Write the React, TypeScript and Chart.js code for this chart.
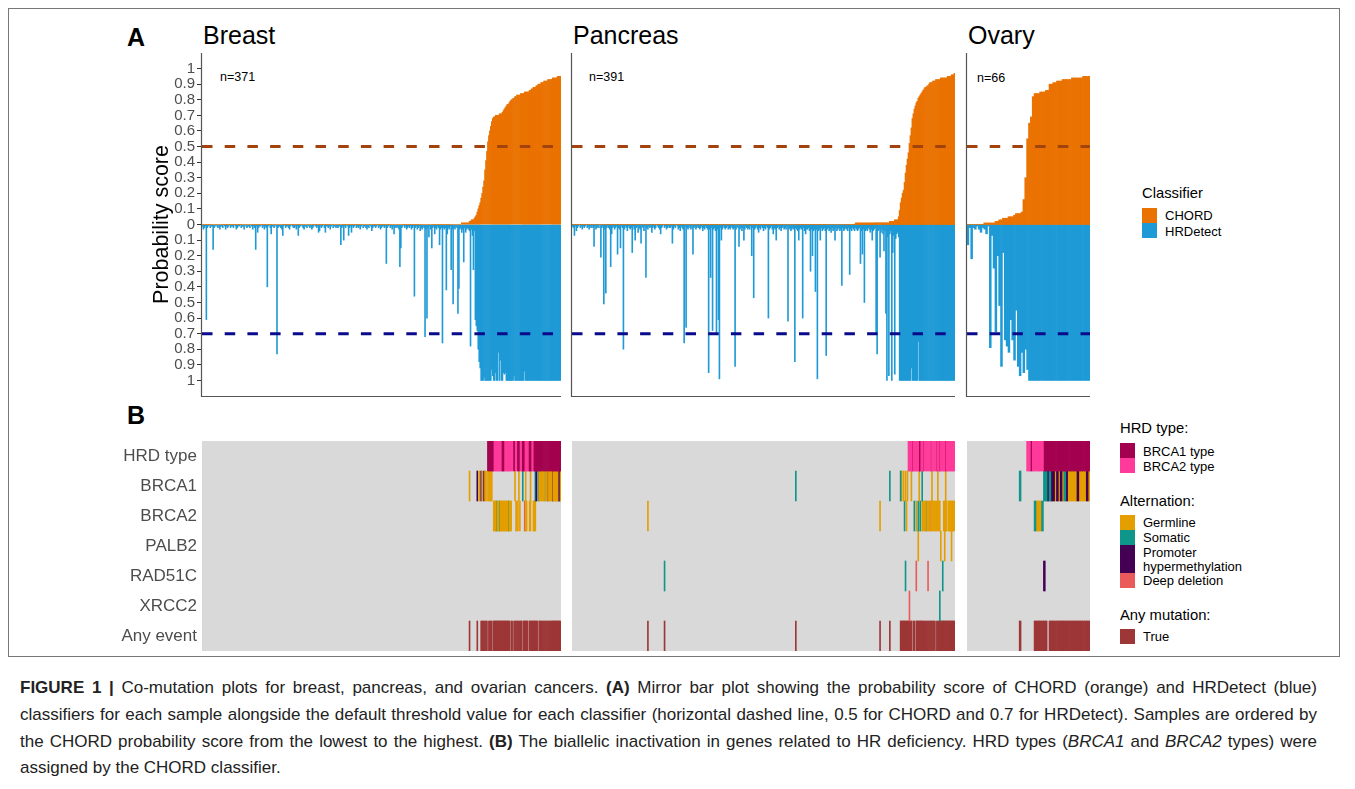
import React, { useEffect, useRef } from 'react';
import { Chart, registerables } from 'chart.js';

Chart.register(...registerables);

const FONT = '"Liberation Sans", Arial, Helvetica, sans-serif';

// ================= DATA =================
const facetNames = ['Breast', 'Pancreas', 'Ovary'];
const sampleCountLabels = ['n=371', 'n=391', 'n=66'];

const probabilityTicks = [-1, -0.9, -0.8, -0.7, -0.6, -0.5, -0.4, -0.3, -0.2, -0.1, 0, 0.1, 0.2, 0.3, 0.4, 0.5, 0.6, 0.7, 0.8, 0.9, 1];
const probabilityTickLabels = ['1', '0.9', '0.8', '0.7', '0.6', '0.5', '0.4', '0.3', '0.2', '0.1', '0', '0.1', '0.2', '0.3', '0.4', '0.5', '0.6', '0.7', '0.8', '0.9', '1'];
const chordThreshold = 0.5;
const hrdetectThreshold = 0.7;

// probability scores in percent, samples ordered by CHORD score
const breastChord = [
  0,0,0,0,0,0,0,0,0,0,0,0,0,0,0,0,0,0,0,0,
  0,0,0,0,0,0,0,0,0,0,0,0,0,0,0,0,0,0,0,0,
  0,0,0,0,0,0,0,0,0,0,0,0,0,0,0,0,0,0,0,0,
  0,0,0,0,0,0,0,0,0,0,0,0,0,0,0,0,0,0,0,0,
  0,0,0,0,0,0,0,0,0,0,0,0,0,0,0,0,0,0,0,0,
  0,0,0,0,0,0,0,0,0,0,0,0,0,0,0,0,0,0,0,0,
  0,0,0,0,0,0,0,0,0,0,0,0,0,0,0,0,0,0,0,0,
  0,0,0,0,0,0,0,0,0,0,0,0,0,0,0,0,0,0,0,0,
  0,0,0,0,0,0,0,0,0,0,0,0,0,0,0,0,0,0,0,0,
  0,0,0,0,0,0,0,0,0,0,0,0,0,0,0,0,0,0,0,0,
  0,0,0,0,0,0,0,0,0,0,0,0,0,0,0,0,0,0,0,0,
  0,0,0,0,0,0,0,0,0,0,0,0,0,0,0,0,0,0,0,0,
  0,0,0,0,0,0,0,0,0,0,0,0,0,0,0,0,0,0,0,0,
  0,0,0,0,0,0,0,0,1,1,1,1,1,1,1,1,2,2,3,3,
  3,4,5,6,8,10,12,14,17,20,24,28,35,41,47,53,57,60,63,66,
  68,69,69,70,70,70,70,71,71,71,72,73,74,75,76,77,77,78,79,80,
  80,81,81,82,82,83,83,83,83,84,84,84,84,85,85,85,85,85,86,86,
  87,87,88,88,88,89,89,90,90,90,91,91,91,92,92,92,92,93,93,93,
  93,93,94,94,94,94,94,95,95,95,95,
];
const breastHrdetect = [
  1,3,2,1,61,2,1,0,2,1,1,16,2,1,0,1,2,1,3,1,
  1,2,0,1,3,1,2,1,0,2,1,1,2,0,1,3,2,1,1,0,
  2,1,1,3,0,1,2,1,1,2,0,1,3,1,2,16,1,5,2,1,
  1,0,2,1,3,1,2,40,1,0,2,6,1,1,2,0,1,83,2,1,
  1,2,3,7,1,0,2,1,1,2,3,1,0,1,2,2,1,3,1,7,
  2,1,0,1,2,3,1,1,2,0,1,2,1,3,2,1,0,1,2,1,
  5,4,1,2,1,0,2,5,1,1,2,1,3,1,0,2,1,1,2,1,
  2,1,1,13,2,1,10,1,2,0,1,7,2,1,5,1,2,1,0,2,
  1,2,1,3,1,0,2,1,1,2,3,1,2,0,1,4,2,1,1,2,
  1,0,2,1,3,2,1,1,2,1,25,2,1,0,2,1,3,1,6,2,
  1,2,1,3,27,15,2,1,0,2,1,3,2,1,2,1,3,2,1,46,
  2,1,3,2,1,4,2,3,1,2,72,3,60,2,8,1,3,15,2,1,
  6,2,3,1,2,13,3,2,76,2,3,2,42,6,2,3,1,29,3,51,
  2,3,1,2,57,41,3,2,5,3,24,2,5,3,2,3,4,78,3,7,
  29,4,61,65,68,80,88,92,100,100,100,98,100,100,100,100,100,100,100,93,
  97,100,100,95,100,100,82,100,87,100,100,95,96,95,100,100,100,100,100,100,
  100,100,97,100,100,100,100,100,100,100,100,100,100,94,100,100,100,100,100,100,
  100,100,100,100,100,100,100,100,100,100,100,100,100,100,100,100,100,100,100,100,
  100,100,100,100,100,100,100,100,100,100,100,
];

const pancreasChord = [
  0,0,0,0,0,0,0,0,0,0,0,0,0,0,0,0,0,0,0,0,
  0,0,0,0,0,0,0,0,0,0,0,0,0,0,0,0,0,0,0,0,
  0,0,0,0,0,0,0,0,0,0,0,0,0,0,0,0,0,0,0,0,
  0,0,0,0,0,0,0,0,0,0,0,0,0,0,0,0,0,0,0,0,
  0,0,0,0,0,0,0,0,0,0,0,0,0,0,0,0,0,0,0,0,
  0,0,0,0,0,0,0,0,0,0,0,0,0,0,0,0,0,0,0,0,
  0,0,0,0,0,0,0,0,0,0,0,0,0,0,0,0,0,0,0,0,
  0,0,0,0,0,0,0,0,0,0,0,0,0,0,0,0,0,0,0,0,
  0,0,0,0,0,0,0,0,0,0,0,0,0,0,0,0,0,0,0,0,
  0,0,0,0,0,0,0,0,0,0,0,0,0,0,0,0,0,0,0,0,
  0,0,0,0,0,0,0,0,0,0,0,0,0,0,0,0,0,0,0,0,
  0,0,0,0,0,0,0,0,0,0,0,0,0,0,0,0,0,0,0,0,
  0,0,0,0,0,0,0,0,0,0,0,0,0,0,0,0,0,0,0,0,
  0,0,0,0,0,0,0,0,0,0,0,0,0,0,0,0,0,0,0,0,
  0,0,0,0,0,0,0,0,0,1,1,1,1,1,1,1,1,1,1,1,
  1,1,1,1,1,1,1,1,1,1,1,1,1,1,1,1,1,1,1,1,
  1,1,1,1,2,2,2,2,2,3,3,3,3,5,9,14,17,20,22,27,
  33,38,42,46,52,57,62,68,71,74,76,78,79,81,82,83,84,85,86,87,
  88,88,89,89,90,91,91,91,92,92,92,93,93,93,93,93,94,94,94,94,
  94,94,94,95,95,95,95,96,96,96,97,
];
const pancreasHrdetect = [
  1,2,7,1,4,2,1,0,2,1,3,1,2,1,0,2,1,3,1,2,
  1,2,14,1,3,2,1,2,0,21,2,1,51,3,44,2,1,2,3,27,
  6,2,1,3,2,1,19,2,3,15,1,2,80,3,1,2,4,1,2,3,
  2,18,1,3,10,2,1,5,2,3,12,1,2,4,1,34,2,3,1,2,
  1,5,2,1,3,2,0,1,2,3,6,2,1,0,2,1,3,2,1,2,
  2,1,12,3,1,2,0,1,3,2,4,1,2,3,76,1,66,2,3,1,
  2,3,1,19,2,1,3,2,1,2,3,2,1,4,2,3,1,2,3,95,
  3,34,2,68,3,2,4,69,3,61,99,2,10,3,1,2,3,2,1,3,
  2,3,1,2,3,2,91,3,1,2,14,3,2,4,2,10,3,1,2,3,
  2,3,1,20,2,47,3,2,1,3,5,2,3,1,2,4,2,3,1,2,
  60,3,2,1,3,6,2,3,10,2,1,3,2,4,2,1,3,2,3,1,
  62,3,2,4,3,2,3,88,2,3,4,10,3,2,3,60,2,4,6,3,
  3,2,4,30,3,20,4,3,43,3,99,4,3,10,2,4,3,2,4,84,
  3,2,4,3,5,2,4,3,10,2,4,3,2,4,3,39,2,4,3,2,
  3,4,2,32,3,4,2,3,4,2,3,4,3,2,25,4,19,3,50,4,
  3,4,2,3,5,3,10,4,3,2,69,83,4,3,21,5,3,6,17,4,
  57,100,8,97,6,4,100,18,7,96,9,6,5,8,100,100,100,100,100,100,
  100,100,100,100,100,100,92,100,100,100,100,100,100,75,100,100,100,100,100,100,
  100,100,100,100,100,100,100,100,100,100,100,100,100,100,100,100,100,100,100,100,
  100,100,100,100,100,100,100,100,100,100,100,
];

const ovaryChord = [
  0,0,0,0,0,0,0,0,0,1,
  1,1,1,1,1,2,2,3,3,4,
  4,4,5,5,5,6,7,7,7,8,
  16,30,55,65,69,82,84,84,84,85,
  85,85,86,86,90,90,91,91,92,92,
  92,93,93,93,93,93,94,94,94,94,
  94,94,95,95,95,95,
];
const ovaryHrdetect = [
  13,2,22,2,3,1,3,5,2,3,
  6,1,79,7,28,69,20,52,91,18,
  74,78,82,61,74,87,55,91,97,82,
  95,80,93,100,100,100,100,100,100,100,
  100,100,100,100,100,100,100,100,100,100,
  100,100,100,100,100,100,100,100,100,100,
  100,100,100,100,100,100,
];

// Panel B: runs of samples [first, last, code]
const heatRows = ['HRD type', 'BRCA1', 'BRCA2', 'PALB2', 'RAD51C', 'XRCC2', 'Any event'];

const breastHrdType = [[295,300,'B1'],[301,309,'B2'],[310,311,'B1'],[312,321,'B2'],[322,322,'B1'],[323,325,'B2'],[326,327,'B1'],[328,330,'B2'],[331,332,'B1'],[333,337,'B2'],[338,339,'B1'],[340,342,'B2'],[343,370,'B1']];
const breastBRCA1 = [[276,276,'G'],[284,284,'P'],[286,286,'G'],[288,288,'P'],[289,289,'G'],[291,291,'P'],[292,293,'G'],[295,299,'G'],[323,323,'G'],[327,327,'G'],[331,331,'S'],[334,334,'G'],[339,339,'G'],[344,344,'S'],[345,345,'P'],[347,347,'S'],[348,353,'G'],[354,354,'S'],[355,356,'G'],[357,357,'P'],[358,361,'G'],[362,362,'P'],[363,367,'G'],[368,369,'P'],[370,370,'G']];
const breastBRCA2 = [[301,303,'G'],[304,304,'S'],[305,306,'G'],[307,307,'S'],[308,315,'G'],[316,316,'S'],[317,319,'G'],[324,326,'G'],[328,328,'G'],[333,333,'D'],[334,335,'G'],[338,339,'G'],[342,344,'G']];
const breastPALB2 = [];
const breastRAD51C = [];
const breastXRCC2 = [];
const breastAnyEvent = [[276,276,'T'],[284,284,'T'],[288,294,'T'],[296,299,'T'],[301,317,'T'],[319,320,'T'],[322,330,'T'],[332,336,'T'],[338,346,'T'],[348,370,'T']];

const pancreasHrdType = [[343,346,'B2'],[347,347,'B1'],[348,353,'B2'],[354,355,'B1'],[356,357,'B2'],[358,358,'B1'],[359,365,'B2'],[366,366,'B1'],[367,371,'B2'],[372,372,'B1'],[373,374,'B2'],[375,375,'B1'],[376,380,'B2'],[381,381,'B1'],[382,390,'B2']];
const pancreasBRCA1 = [[228,228,'S'],[324,324,'S'],[335,335,'S'],[336,336,'G'],[338,338,'G'],[340,340,'G'],[342,342,'G'],[346,346,'G'],[354,354,'G'],[357,357,'S'],[367,367,'G'],[373,373,'G'],[381,381,'G']];
const pancreasBRCA2 = [[77,77,'G'],[314,314,'G'],[339,339,'S'],[341,341,'G'],[349,349,'S'],[351,351,'G'],[353,353,'S'],[355,355,'S'],[357,360,'G'],[361,361,'S'],[362,364,'G'],[365,365,'D'],[366,375,'G'],[379,382,'G'],[384,390,'G']];
const pancreasPALB2 = [[353,353,'G'],[376,376,'G'],[380,380,'G'],[387,387,'G']];
const pancreasRAD51C = [[94,94,'S'],[340,340,'S'],[351,351,'D'],[363,363,'D'],[378,378,'S']];
const pancreasXRCC2 = [[344,344,'D'],[375,375,'S']];
const pancreasAnyEvent = [[77,77,'T'],[94,94,'T'],[228,228,'T'],[314,314,'T'],[324,324,'T'],[335,346,'T'],[348,349,'T'],[351,370,'T'],[372,390,'T']];

const ovaryHrdType = [[32,33,'B2'],[34,34,'B1'],[35,40,'B2'],[41,65,'B1']];
const ovaryBRCA1 = [[28,28,'S'],[41,42,'S'],[43,43,'P'],[44,44,'S'],[45,46,'P'],[47,47,'G'],[48,48,'P'],[49,49,'G'],[50,50,'P'],[51,51,'G'],[52,52,'S'],[53,53,'P'],[54,58,'G'],[59,59,'P'],[60,63,'G'],[64,64,'P'],[65,65,'G']];
const ovaryBRCA2 = [[36,36,'S'],[37,39,'G'],[40,40,'S']];
const ovaryPALB2 = [];
const ovaryRAD51C = [[41,41,'P']];
const ovaryXRCC2 = [];
const ovaryAnyEvent = [[28,28,'T'],[36,42,'T'],[44,65,'T']];

// ================= STYLE =================
const CHORD_COLOR = '#EA7200';
const HRD_COLOR = '#1E9AD6';
const CHORD_LINE = '#A2420D';
const HRD_LINE = '#0A0A8C';
const HEAT_BG = '#D9D9D9';
const codeColors: Record<string, string> = {
  B1: '#A3004F',
  B2: '#FF3A9A',
  G: '#E49E00',
  S: '#0E968B',
  P: '#440154',
  D: '#EA5A5A',
  T: '#9D3636',
};

const axisLinesPlugin = {
  id: 'axisLines',
  afterDraw(chart: any) {
    const { ctx, chartArea: a } = chart;
    ctx.save();
    ctx.strokeStyle = '#555555';
    ctx.lineWidth = 1.2;
    ctx.beginPath();
    ctx.moveTo(a.left - 0.5, a.top);
    ctx.lineTo(a.left - 0.5, a.bottom + 0.5);
    ctx.lineTo(a.right, a.bottom + 0.5);
    ctx.stroke();
    ctx.restore();
  },
};

const thresholdPlugin = {
  id: 'thresholds',
  afterDatasetsDraw(chart: any) {
    const { ctx, chartArea: a } = chart;
    const y = chart.scales.y;
    const lines: [number, string][] = [[chordThreshold, CHORD_LINE], [-hrdetectThreshold, HRD_LINE]];
    ctx.save();
    ctx.lineWidth = 3;
    ctx.setLineDash([10.5, 12.2]);
    ctx.lineCap = 'butt';
    for (const [v, c] of lines) {
      const py = y.getPixelForValue(v);
      ctx.strokeStyle = c;
      ctx.beginPath();
      ctx.moveTo(a.left, py);
      ctx.lineTo(a.right, py);
      ctx.stroke();
    }
    ctx.restore();
  },
};

const heatBgPlugin = {
  id: 'heatBg',
  beforeDatasetsDraw(chart: any) {
    const { ctx, chartArea: a } = chart;
    ctx.save();
    ctx.fillStyle = HEAT_BG;
    ctx.fillRect(a.left, a.top, a.right - a.left, a.bottom - a.top);
    ctx.restore();
  },
};

function BarFacet(props: any) {
  const { chord, hrd, left, width, padLeft, showAxis } = props;
  const ref = useRef<HTMLCanvasElement>(null);
  useEffect(() => {
    const labels = chord.map((_: number, i: number) => String(i + 1));
    const chart = new Chart(ref.current as HTMLCanvasElement, {
      type: 'bar',
      data: {
        labels,
        datasets: [
          { label: 'CHORD', data: chord.map((v: number) => v / 100), backgroundColor: CHORD_COLOR, borderWidth: 0, barPercentage: 1, categoryPercentage: 1, grouped: false } as any,
          { label: 'HRDetect', data: hrd.map((v: number) => -v / 100), backgroundColor: HRD_COLOR, borderWidth: 0, barPercentage: 1, categoryPercentage: 1, grouped: false } as any,
        ],
      },
      options: {
        animation: false,
        responsive: false,
        devicePixelRatio: 1,
        layout: { padding: { left: padLeft, right: 5, top: 13, bottom: 14 } },
        plugins: { legend: { display: false }, tooltip: { enabled: false } },
        scales: {
          x: { display: false, offset: true },
          y: {
            min: -1.1,
            max: 1.1,
            display: showAxis,
            afterFit: (s: any) => { s.width = showAxis ? 62 : 0; },
            afterBuildTicks: (s: any) => { s.ticks = probabilityTicks.map((v) => ({ value: v })); },
            ticks: {
              autoSkip: false,
              padding: 2,
              color: '#4D4D4D',
              font: { family: FONT, size: 15 },
              callback: (_v: any, i: number) => probabilityTickLabels[i],
            },
            grid: { drawOnChartArea: false, drawTicks: true, tickLength: 5, color: '#333333', lineWidth: 1 },
            border: { display: false },
            title: { display: true, text: 'Probability score', color: '#000', font: { family: FONT, size: 21.5 }, padding: { top: 9, bottom: 0 } },
          },
        },
      } as any,
      plugins: [axisLinesPlugin, thresholdPlugin],
    });
    return () => chart.destroy();
  }, []);
  return <canvas ref={ref} width={width} height={370} style={{ position: 'absolute', left, top: 40, width, height: 370 }} />;
}

function HeatFacet(props: any) {
  const { rows, n, left, width, padLeft, showAxis } = props;
  const ref = useRef<HTMLCanvasElement>(null);
  useEffect(() => {
    const labels = Array.from({ length: n }, (_, i) => String(i + 1));
    const datasets: any[] = [];
    rows.forEach((runs: any[], r: number) => {
      const codes = Array.from(new Set(runs.map((run) => run[2])));
      codes.forEach((code) => {
        const data: any[] = new Array(n).fill(null);
        runs.forEach(([a, b, c]: any) => {
          if (c === code) for (let i = a; i <= b; i++) data[i] = [r, r + 1];
        });
        datasets.push({ data, backgroundColor: codeColors[code as string], borderWidth: 0, barPercentage: 1, categoryPercentage: 1, grouped: false });
      });
    });
    const chart = new Chart(ref.current as HTMLCanvasElement, {
      type: 'bar',
      data: { labels, datasets },
      options: {
        animation: false,
        responsive: false,
        devicePixelRatio: 1,
        layout: { padding: { left: padLeft, right: 5, top: 16, bottom: 16 } },
        plugins: { legend: { display: false }, tooltip: { enabled: false } },
        scales: {
          x: { display: false, offset: true },
          y: {
            min: 0,
            max: heatRows.length,
            reverse: true,
            display: showAxis,
            afterFit: (s: any) => { s.width = showAxis ? 102 : 0; },
            afterBuildTicks: (s: any) => { s.ticks = heatRows.map((_, i) => ({ value: i + 0.5 })); },
            ticks: {
              autoSkip: false,
              padding: 5,
              color: '#4D4D4D',
              font: { family: FONT, size: 17 },
              callback: (_v: any, i: number) => heatRows[i],
            },
            grid: { display: false, drawTicks: false, tickLength: 0 },
            border: { display: false },
          },
        },
      } as any,
      plugins: [heatBgPlugin],
    });
    return () => chart.destroy();
  }, []);
  return <canvas ref={ref} width={width} height={242} style={{ position: 'absolute', left, top: 425, width, height: 242 }} />;
}

function T(props: any) {
  const { x, y, size, bold, color, children } = props;
  // y = visual centre of capital letters
  return (
    <div style={{ position: 'absolute', left: x, top: y - 0.4885 * size, fontSize: size, lineHeight: `${size}px`, fontWeight: bold ? 'bold' : 'normal', color: color || '#000', whiteSpace: 'nowrap' }}>
      {children}
    </div>
  );
}

function Box(props: any) {
  const { x, y, h, color } = props;
  return <div style={{ position: 'absolute', left: x, top: y, width: 15, height: h || 15, background: color }} />;
}

const capLine: any = { width: 1297, textAlign: 'justify', textAlignLast: 'justify', whiteSpace: 'nowrap', height: 26.7 };

export default function App() {
  return (
    <div style={{ position: 'absolute', left: 0, top: 0, width: 1355, height: 789, background: '#fff', overflow: 'hidden', fontFamily: FONT, color: '#000' }}>
      {/* frame */}
      <div style={{ position: 'absolute', left: 8, top: 8, width: 1332, height: 649, border: '1px solid #777', boxSizing: 'border-box' }} />

      <T x={127} y={37} size={25} bold>A</T>
      <T x={127} y={415} size={25} bold>B</T>
      <T x={203} y={35} size={25}>{facetNames[0]}</T>
      <T x={573} y={35} size={25}>{facetNames[1]}</T>
      <T x={968} y={35} size={25}>{facetNames[2]}</T>
      <T x={220} y={77.5} size={12.5}>{sampleCountLabels[0]}</T>
      <T x={589} y={77.5} size={12.5}>{sampleCountLabels[1]}</T>
      <T x={977} y={78} size={12.5}>{sampleCountLabels[2]}</T>

      <BarFacet chord={breastChord} hrd={breastHrdetect} left={140} width={426} padLeft={0} showAxis={true} />
      <BarFacet chord={pancreasChord} hrd={pancreasHrdetect} left={560} width={400} padLeft={12} showAxis={false} />
      <BarFacet chord={ovaryChord} hrd={ovaryHrdetect} left={955} width={140} padLeft={12} showAxis={false} />

      <HeatFacet rows={[breastHrdType, breastBRCA1, breastBRCA2, breastPALB2, breastRAD51C, breastXRCC2, breastAnyEvent]} n={breastChord.length} left={100} width={466} padLeft={0} showAxis={true} />
      <HeatFacet rows={[pancreasHrdType, pancreasBRCA1, pancreasBRCA2, pancreasPALB2, pancreasRAD51C, pancreasXRCC2, pancreasAnyEvent]} n={pancreasChord.length} left={560} width={400} padLeft={12} showAxis={false} />
      <HeatFacet rows={[ovaryHrdType, ovaryBRCA1, ovaryBRCA2, ovaryPALB2, ovaryRAD51C, ovaryXRCC2, ovaryAnyEvent]} n={ovaryChord.length} left={955} width={140} padLeft={12} showAxis={false} />

      {/* Classifier legend */}
      <T x={1142} y={193} size={14.8}>Classifier</T>
      <Box x={1142} y={208} color={CHORD_COLOR} />
      <Box x={1142} y={223} color={HRD_COLOR} />
      <T x={1165} y={215} size={13}>CHORD</T>
      <T x={1165} y={231} size={13}>HRDetect</T>

      {/* Panel B legends */}
      <T x={1120} y={428} size={14.8}>HRD type:</T>
      <Box x={1120} y={443} color={codeColors.B1} />
      <Box x={1120} y={458} color={codeColors.B2} />
      <T x={1143} y={451} size={13}>BRCA1 type</T>
      <T x={1143} y={466} size={13}>BRCA2 type</T>

      <T x={1120} y={501.5} size={14.8}>Alternation:</T>
      <Box x={1120} y={515} color={codeColors.G} />
      <Box x={1120} y={530} color={codeColors.S} />
      <Box x={1120} y={545} h={28} color={codeColors.P} />
      <Box x={1120} y={573} color={codeColors.D} />
      <T x={1143} y={522.5} size={13}>Germline</T>
      <T x={1143} y={537.5} size={13}>Somatic</T>
      <T x={1143} y={552} size={13}>Promoter</T>
      <T x={1143} y={566} size={13}>hypermethylation</T>
      <T x={1143} y={580.5} size={13}>Deep deletion</T>

      <T x={1120} y={615} size={14.8}>Any mutation:</T>
      <Box x={1120} y={629} color={codeColors.T} />
      <T x={1143} y={636.5} size={13}>True</T>

      {/* caption */}
      <div style={{ position: 'absolute', left: 20, top: 675.3, fontSize: 17, lineHeight: '26.7px', color: '#222' }}>
        <div style={capLine}>
          <b>{'FIGURE 1 |'}</b>{' Co-mutation plots for breast, pancreas, and ovarian cancers. '}<b>{'(A)'}</b>{' Mirror bar plot showing the probability score of CHORD (orange) and HRDetect (blue)'}
        </div>
        <div style={capLine}>
          {'classifiers for each sample alongside the default threshold value for each classifier (horizontal dashed line, 0.5 for CHORD and 0.7 for HRDetect). Samples are ordered by'}
        </div>
        <div style={capLine}>
          {'the CHORD probability score from the lowest to the highest. '}<b>{'(B)'}</b>{' The biallelic inactivation in genes related to HR deficiency. HRD types ('}<i>{'BRCA1'}</i>{' and '}<i>{'BRCA2'}</i>{' types) were'}
        </div>
        <div style={{ whiteSpace: 'nowrap', height: 26.7 }}>{'assigned by the CHORD classifier.'}</div>
      </div>
    </div>
  );
}
